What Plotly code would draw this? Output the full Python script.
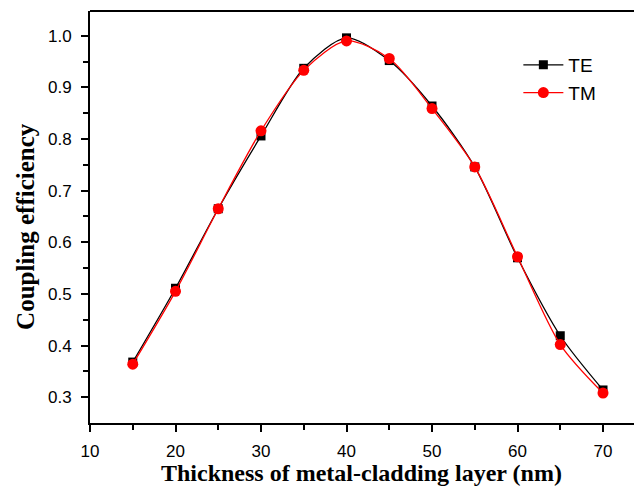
import plotly.graph_objects as go

thickness = [15, 20, 25, 30, 35, 40, 45, 50, 55, 60, 65, 70]
te = [0.368, 0.511, 0.665, 0.806, 0.937, 0.996, 0.952, 0.864, 0.746, 0.570, 0.419, 0.314]
tm = [0.364, 0.505, 0.665, 0.816, 0.933, 0.990, 0.956, 0.859, 0.746, 0.572, 0.402, 0.308]
x_ticks = [10, 20, 30, 40, 50, 60, 70]
y_ticks = [0.3, 0.4, 0.5, 0.6, 0.7, 0.8, 0.9, 1.0]

fig = go.Figure()
fig.add_trace(go.Scatter(x=thickness, y=te, name="TE", mode="lines+markers",
                         line=dict(color="black", width=1.3, shape="spline", smoothing=0.8),
                         marker=dict(symbol="square", size=9, color="black")))
fig.add_trace(go.Scatter(x=thickness, y=tm, name="TM", mode="lines+markers",
                         line=dict(color="red", width=1.3, shape="spline", smoothing=0.8),
                         marker=dict(symbol="circle", size=11, color="red")))

axis_common = dict(showline=True, linecolor="black", linewidth=2, ticks="outside",
                   ticklen=7, tickwidth=1.5, tickcolor="black", showgrid=False, zeroline=False,
                   tickfont=dict(family="Liberation Sans, Arial", size=17, color="black"))

fig.update_xaxes(range=[10, 74.56], tickvals=x_ticks, mirror=False, ticklabelstandoff=5,
                 minor=dict(tickvals=[15, 25, 35, 45, 55, 65], ticklen=5, tickwidth=1.5,
                            tickcolor="black", ticks="outside"),
                 **axis_common)
fig.update_yaxes(range=[0.25, 1.048], tickvals=y_ticks, tickformat=".1f", ticklabelstandoff=6,
                 minor=dict(tickvals=[0.35, 0.45, 0.55, 0.65, 0.75, 0.85, 0.95], ticklen=5,
                            tickwidth=1.5, tickcolor="black", ticks="outside"),
                 **axis_common)

# top frame line
fig.add_shape(type="line", xref="paper", yref="paper", x0=0, x1=1, y0=1, y1=1,
              line=dict(color="black", width=2))

title_font = dict(family="Liberation Serif, Times New Roman", color="black")
fig.add_annotation(text="<b>Thickness of metal-cladding layer (nm)</b>", xref="paper", yref="paper",
                   x=0.491, y=-0.121, xanchor="center", yanchor="middle", showarrow=False,
                   font=dict(size=24, **title_font))
fig.add_annotation(text="<b>Coupling efficiency</b>", xref="paper", yref="paper",
                   x=-0.118, y=0.478, xanchor="center", yanchor="middle", showarrow=False,
                   textangle=-90, font=dict(size=25, **title_font))

fig.update_layout(width=634, height=484, plot_bgcolor="white", paper_bgcolor="white",
                  margin=dict(l=82, r=0, t=3, b=69, autoexpand=False),
                  legend=dict(x=0.776, y=0.915, xanchor="left", yanchor="top",
                              font=dict(family="Liberation Sans, Arial", size=19, color="black"),
                              bgcolor="rgba(0,0,0,0)", tracegroupgap=0, itemwidth=40))

fig.write_html("out.html")
